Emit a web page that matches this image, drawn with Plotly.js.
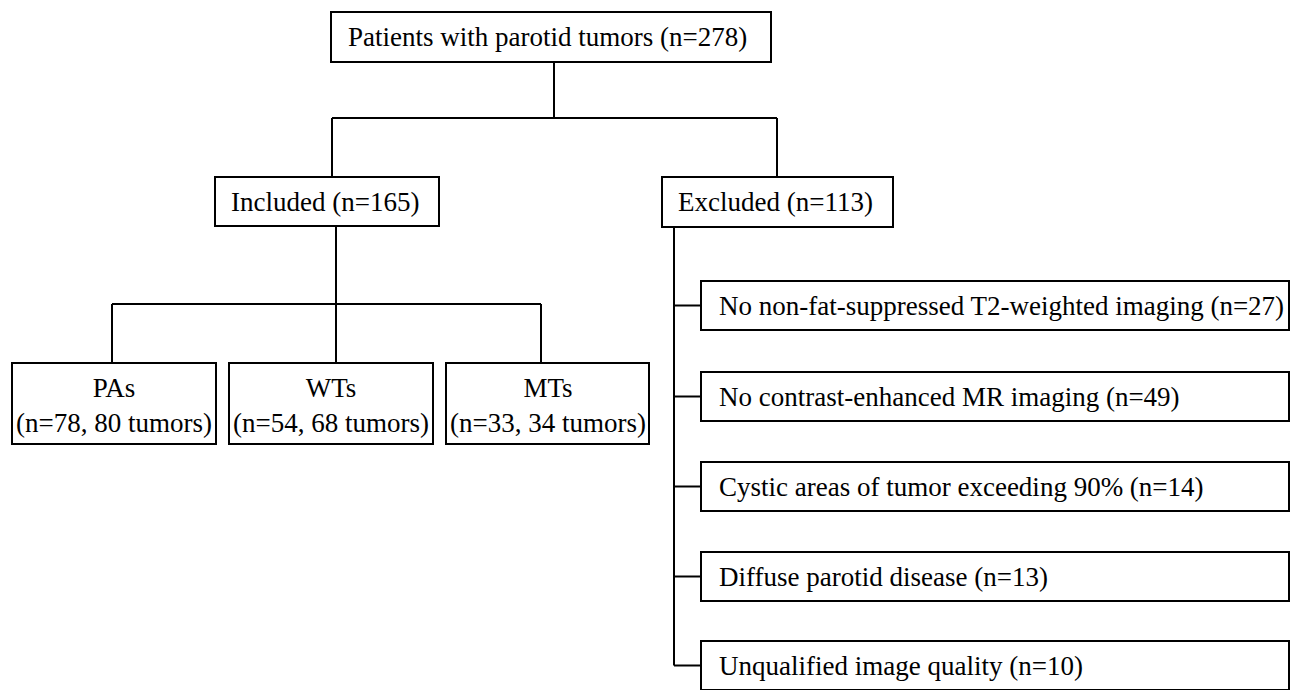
<!DOCTYPE html>
<html>
<head>
<meta charset="utf-8">
<script src="https://cdn.plot.ly/plotly-3.0.1.min.js"></script>
<style>html,body{margin:0;padding:0;background:#fff;}#chart{width:1291px;height:690px;}</style>
</head>
<body>
<div id="chart"></div>
<script>
// ---- Data ----
const rootLabel = "Patients with parotid tumors";
const rootN = 278;
const groupLabels = ["Included", "Excluded"];
const groupN = [165, 113];
const tumorTypes = ["PAs", "WTs", "MTs"];
const typePatients = [78, 54, 33];
const typeTumors = [80, 68, 34];
const exclusionReasons = [
  "No non-fat-suppressed T2-weighted imaging",
  "No contrast-enhanced MR imaging",
  "Cystic areas of tumor exceeding 90%",
  "Diffuse parotid disease",
  "Unqualified image quality"
];
const exclusionN = [27, 49, 14, 13, 10];

// ---- Geometry (layout only) ----
const G = {
  root: {x0: 331, x1: 771, y0: 12, y1: 62},
  groups: [{x0: 215, x1: 439, y0: 177, y1: 226}, {x0: 662, x1: 893, y0: 177, y1: 227}],
  rootBus: {y: 118, stemX: 554, drops: [332, 777]},
  types: [{x0: 12, x1: 216}, {x0: 229, x1: 433}, {x0: 446, x1: 649}],
  typeY: [363, 444],
  typeBus: {y: 304, stemX: 336, drops: [112, 336, 541]},
  reasonX: [701, 1289],
  reasonTop: [281, 372, 462, 552, 641],
  reasonH: 49,
  trunkX: 674,
  textPad: 16
};
const FONT = {family: '"Liberation Serif", "Times New Roman", serif', size: 27, color: "#000"};
const LW = 2;

const shapes = [];
const annotations = [];
function rect(x0, y0, x1, y1) {
  shapes.push({type: "rect", xref: "x", yref: "y", x0, y0, x1, y1,
    line: {color: "#000", width: LW}, fillcolor: "rgba(0,0,0,0)"});
}
function line(x0, y0, x1, y1) {
  shapes.push({type: "line", xref: "x", yref: "y", x0, y0, x1, y1,
    line: {color: "#000", width: LW}});
}
function text(x, y, t, anchor) {
  annotations.push({xref: "x", yref: "y", x, y, text: t, showarrow: false,
    xanchor: anchor || "center", yanchor: "middle", font: FONT, align: anchor === "left" ? "left" : "center"});
}

// root box
const r = G.root;
rect(r.x0, r.y0, r.x1, r.y1);
text((r.x0 + r.x1) / 2 - 4, (r.y0 + r.y1) / 2, `${rootLabel} (n=${rootN})`);
// root connectors
line(G.rootBus.stemX, r.y1, G.rootBus.stemX, G.rootBus.y);
line(G.rootBus.drops[0], G.rootBus.y, G.rootBus.drops[1], G.rootBus.y);
G.rootBus.drops.forEach((dx, i) => line(dx, G.rootBus.y, dx, G.groups[i].y0));

// group boxes
groupLabels.forEach((lab, i) => {
  const g = G.groups[i];
  rect(g.x0, g.y0, g.x1, g.y1);
  text((g.x0 + g.x1) / 2 - 2, (g.y0 + g.y1) / 2, `${lab} (n=${groupN[i]})`);
});

// included -> tumour types
const inc = G.groups[0];
line(G.typeBus.stemX, inc.y1, G.typeBus.stemX, G.typeBus.y);
line(G.typeBus.drops[0], G.typeBus.y, G.typeBus.drops[2], G.typeBus.y);
G.typeBus.drops.forEach(dx => line(dx, G.typeBus.y, dx, G.typeY[0]));
tumorTypes.forEach((lab, i) => {
  const t = G.types[i];
  rect(t.x0, G.typeY[0], t.x1, G.typeY[1]);
  text((t.x0 + t.x1) / 2, (G.typeY[0] + G.typeY[1]) / 2 + 2,
    `${lab}<br>(n=${typePatients[i]}, ${typeTumors[i]} tumors)`);
});

// excluded -> reasons
const exc = G.groups[1];
const lastMid = G.reasonTop[G.reasonTop.length - 1] + G.reasonH / 2;
line(G.trunkX, exc.y1, G.trunkX, lastMid);
exclusionReasons.forEach((lab, i) => {
  const y0 = G.reasonTop[i], y1 = y0 + G.reasonH, ym = (y0 + y1) / 2;
  rect(G.reasonX[0], y0, G.reasonX[1], y1);
  line(G.trunkX, ym, G.reasonX[0], ym);
  text(G.reasonX[0] + G.textPad, ym, `${lab} (n=${exclusionN[i]})`, "left");
});

const layout = {
  width: 1291, height: 690,
  margin: {l: 0, r: 0, t: 0, b: 0},
  paper_bgcolor: "#fff", plot_bgcolor: "#fff",
  xaxis: {range: [0, 1291], visible: false, fixedrange: true},
  yaxis: {range: [690, 0], visible: false, fixedrange: true},
  showlegend: false,
  shapes, annotations
};
Plotly.newPlot("chart", [], layout, {displayModeBar: false, staticPlot: true});
</script>
</body>
</html>
